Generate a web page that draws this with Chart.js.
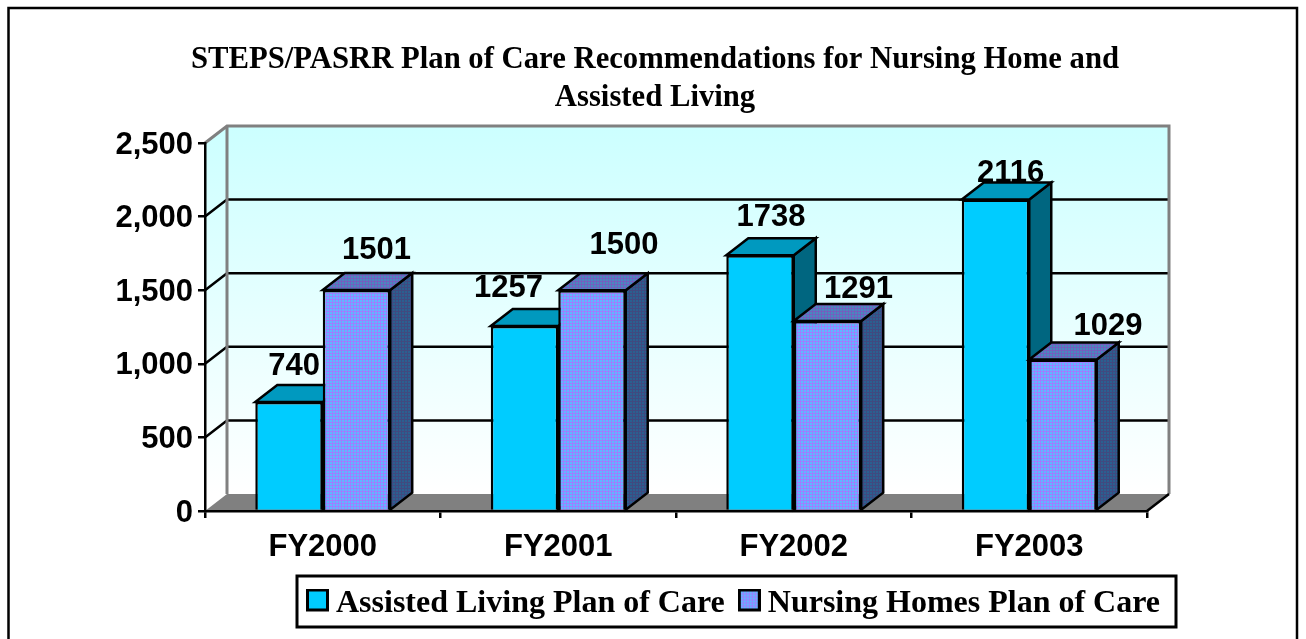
<!DOCTYPE html>
<html lang="en">
<head>
  <meta charset="UTF-8" />
  <script src="https://cdn.jsdelivr.net/npm/chart.js"></script>
  <style>
    body { margin: 0; background: #fff; }
    canvas { display: block; }
  </style>
</head>
<body>
  <canvas id="planChart" width="1306" height="639"></canvas>

  <script>
    const titleLines = ['STEPS/PASRR Plan of Care Recommendations for Nursing Home and', 'Assisted Living'];
    const categories = ['FY2000', 'FY2001', 'FY2002', 'FY2003'];
    const assistedLabel = 'Assisted Living Plan of Care';
    const nursingLabel = 'Nursing Homes Plan of Care';
    const assistedValues = [740, 1257, 1738, 2116];
    const nursingValues = [1501, 1500, 1291, 1029];

    // how far each value label sits from the bar's top centre
    const assistedLabelShift = [[5, -36], [-16, -38], [11, -38], [15, -26]];
    const nursingLabelShift = [[20, -40], [32, -45], [31, -32], [45, -33]];

    const DEPTH_X = 22, DEPTH_Y = -17;
    const sansBold = 'bold 31px "Liberation Sans"';

    function weave(cell, line) {
      const c = document.createElement('canvas');
      c.width = c.height = 3;
      const g = c.getContext('2d');
      g.fillStyle = line; g.fillRect(0, 0, 3, 3);
      g.fillStyle = cell; g.fillRect(0, 0, 2, 2);
      return g.createPattern(c, 'repeat');
    }
    const nursingFront = weave('#5fb8ff', '#9c80ff');
    const nursingTop = weave('#478abf', '#7260bf');
    const nursingSide = weave('#2a6090', '#404a80');

    const shade = {
      0: { top: '#0099bf', side: '#006680' },
      1: { top: nursingTop, side: nursingSide },
    };

    // taller than the box so it sits a little above the legend text's centre
    function swatch(fill) {
      const c = document.createElement('canvas');
      c.width = 23;
      c.height = 31;
      const g = c.getContext('2d');
      g.fillStyle = fill; g.fillRect(0, 0, 23, 23);
      g.strokeStyle = '#000'; g.lineWidth = 3; g.strokeRect(1.5, 1.5, 20, 20);
      return c;
    }
    const swatches = [swatch('#00ccff'), swatch(nursingFront)];

    function poly(ctx, pts, fill, stroke, width) {
      ctx.beginPath();
      pts.forEach((p, i) => i ? ctx.lineTo(p[0], p[1]) : ctx.moveTo(p[0], p[1]));
      ctx.closePath();
      if (fill) { ctx.fillStyle = fill; ctx.fill(); }
      if (stroke) { ctx.strokeStyle = stroke; ctx.lineWidth = width; ctx.stroke(); }
    }

    const room = {
      id: 'room',
      afterLayout(chart) {
        // title and legend sit off centre in the reference, the layout can't do that
        const lg = chart.legend;
        lg.left = 293; lg.right = 1230; lg.top = 566;
        chart.titleBlock.left = 0;
        chart.titleBlock.right = 1310;
      },
      beforeDraw(chart) {
        const { ctx, chartArea: a, scales: { y } } = chart;
        ctx.save();
        poly(ctx, [[8.5, 8], [1297, 8], [1297, 645], [8.5, 645]], null, '#000', 2.5);

        const wall = ctx.createLinearGradient(0, a.top + DEPTH_Y, 0, a.bottom + DEPTH_Y);
        wall.addColorStop(0, '#ccffff');
        wall.addColorStop(1, '#ffffff');
        poly(ctx, [[a.left, a.top], [a.left + DEPTH_X, a.top + DEPTH_Y], [a.right + DEPTH_X, a.top + DEPTH_Y],
          [a.right + DEPTH_X, a.bottom + DEPTH_Y], [a.left + DEPTH_X, a.bottom + DEPTH_Y], [a.left, a.bottom]], wall);
        poly(ctx, [[a.left, a.bottom], [a.left + DEPTH_X, a.bottom + DEPTH_Y], [a.right + DEPTH_X, a.bottom + DEPTH_Y], [a.right, a.bottom]], '#808080');

        ctx.strokeStyle = '#000';
        ctx.lineWidth = 2.5;
        y.ticks.forEach(t => {
          if (t.value === 0 || t.value === y.max) return;
          const py = y.getPixelForValue(t.value);
          ctx.beginPath();
          ctx.moveTo(a.left, py);
          ctx.lineTo(a.left + DEPTH_X, py + DEPTH_Y);
          ctx.lineTo(a.right + DEPTH_X, py + DEPTH_Y);
          ctx.stroke();
        });

        ctx.strokeStyle = '#808080';
        ctx.lineWidth = 3;
        ctx.beginPath();
        ctx.moveTo(a.left, a.top);
        ctx.lineTo(a.left + DEPTH_X, a.top + DEPTH_Y);
        ctx.lineTo(a.right + DEPTH_X, a.top + DEPTH_Y);
        ctx.lineTo(a.right + DEPTH_X, a.bottom + DEPTH_Y);
        ctx.moveTo(a.left + DEPTH_X, a.top + DEPTH_Y);
        ctx.lineTo(a.left + DEPTH_X, a.bottom + DEPTH_Y);
        ctx.stroke();

        ctx.strokeStyle = '#000';
        ctx.lineWidth = 2.5;
        ctx.beginPath();
        ctx.moveTo(a.right, a.bottom);
        ctx.lineTo(a.right + DEPTH_X, a.bottom + DEPTH_Y);
        ctx.stroke();

        poly(ctx, [[297, 576], [1176, 576], [1176, 627], [297, 627]], null, '#000', 3);
        ctx.restore();
      },
      // the left bar has to go under the right one, so the drawing order is done here
      beforeDatasetsDraw(chart) {
        const { ctx } = chart;
        ctx.save();
        [0, 1].forEach(ds => {
          const meta = chart.getDatasetMeta(ds);
          const look = shade[ds];
          meta.data.forEach(bar => {
            const l = bar.x - bar.width / 2, r = bar.x + bar.width / 2;
            poly(ctx, [[r, bar.y], [r + DEPTH_X, bar.y + DEPTH_Y], [r + DEPTH_X, bar.base + DEPTH_Y], [r, bar.base]], look.side, '#000', 2.5);
            poly(ctx, [[l, bar.y], [l + DEPTH_X, bar.y + DEPTH_Y], [r + DEPTH_X, bar.y + DEPTH_Y], [r, bar.y]], look.top, '#000', 2.5);
          });
          meta.controller.draw();
        });

        ctx.font = sansBold;
        ctx.fillStyle = '#000';
        ctx.textAlign = 'center';
        ctx.textBaseline = 'middle';
        [assistedLabelShift, nursingLabelShift].forEach((shift, ds) => {
          chart.getDatasetMeta(ds).data.forEach((bar, i) => {
            const v = chart.data.datasets[ds].data[i];
            ctx.fillText(String(v), bar.x + shift[i][0], bar.y + shift[i][1]);
          });
        });
        ctx.restore();
        return false;
      },
    };

    new Chart(document.getElementById('planChart').getContext('2d'), {
      type: 'bar',
      data: {
        labels: categories,
        datasets: [
          { label: assistedLabel, data: assistedValues, backgroundColor: '#00ccff', borderColor: '#000', borderWidth: 2.5 },
          { label: nursingLabel, data: nursingValues, backgroundColor: nursingFront, borderColor: '#000', borderWidth: 2.5 },
        ],
      },
      options: {
        responsive: false,
        animation: false,
        layout: { padding: { right: 159 } },
        datasets: { bar: { barPercentage: 1, categoryPercentage: 0.573 } },
        plugins: {
          tooltip: { enabled: false },
          title: {
            display: true,
            text: titleLines,
            color: '#000',
            font: { family: '"Liberation Serif"', size: 30.7, weight: 'bold', lineHeight: 38 / 30.7 },
            padding: { top: 41, bottom: 26 },
          },
          legend: {
            position: 'bottom',
            align: 'start',
            labels: {
              color: '#000',
              font: { family: '"Liberation Serif"', size: 32, weight: 'bold' },
              usePointStyle: true,
              pointStyleWidth: 5,
              boxHeight: 23,
              padding: 22,
              generateLabels(chart) {
                return Chart.defaults.plugins.legend.labels.generateLabels(chart)
                  .map((item, i) => ({ ...item, pointStyle: swatches[i] }));
              },
            },
          },
        },
        scales: {
          x: {
            afterFit(s) { s.height = 128 - s.chart.legend.height; },
            border: { color: '#000', width: 2.5 },
            grid: { drawOnChartArea: false, color: '#000', lineWidth: 2.5, tickLength: 7 },
            ticks: { color: '#000', font: { family: '"Liberation Sans"', size: 31, weight: 'bold' }, padding: 11, maxRotation: 0 },
          },
          y: {
            min: 0,
            max: 2500,
            afterFit(s) { s.width = 205; },
            border: { color: '#000', width: 2.5 },
            grid: { drawOnChartArea: false, color: '#000', lineWidth: 2.5, tickLength: 7 },
            ticks: { color: '#000', stepSize: 500, font: { family: '"Liberation Sans"', size: 31, weight: 'bold' }, padding: 5, labelOffset: 2 },
          },
        },
      },
      plugins: [room],
    });
  </script>
</body>
</html>
